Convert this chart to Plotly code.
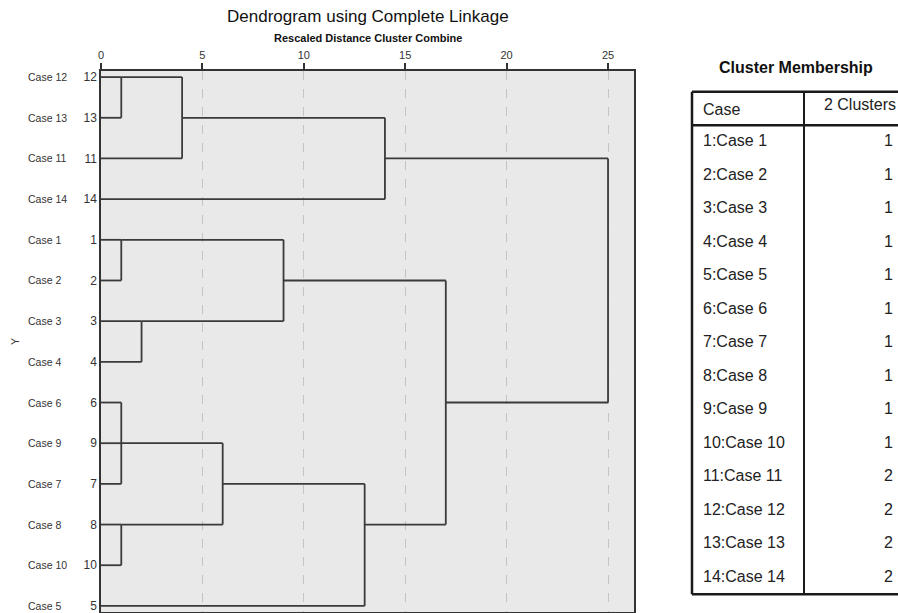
import plotly.graph_objects as go

# ---------------- data ----------------
leaf_labels = ["Case 12", "Case 13", "Case 11", "Case 14", "Case 1", "Case 2", "Case 3",
               "Case 4", "Case 6", "Case 9", "Case 7", "Case 8", "Case 10", "Case 5"]
leaf_numbers = [12, 13, 11, 14, 1, 2, 3, 4, 6, 9, 7, 8, 10, 5]

# merges: node ids 0..13 are leaves (by row), merges get ids 14..25 in order
merge_children = [[0, 1], [14, 2], [15, 3], [4, 5], [6, 7], [17, 18],
                  [8, 9, 10], [11, 12], [20, 21], [22, 13], [19, 23], [16, 24]]
merge_heights = [1, 4, 14, 1, 2, 9, 1, 1, 6, 13, 17, 25]
merge_rows = [0, 1, 2, 4, 6, 5, 9, 11, 10, 11, 8, 5]

x_ticks = [0, 5, 10, 15, 20, 25]

table_cases = [f"{i}:Case {i}" for i in range(1, 15)]
table_clusters = [1, 1, 1, 1, 1, 1, 1, 1, 1, 1, 2, 2, 2, 2]
table_header = ["Case", "2 Clusters"]

# ---------------- build dendrogram segments ----------------
n_leaves = len(leaf_labels)
node_row = {i: i for i in range(n_leaves)}
node_h = {i: 0 for i in range(n_leaves)}
xs, ys = [], []
for k, (ch, h, r) in enumerate(zip(merge_children, merge_heights, merge_rows)):
    nid = n_leaves + k
    rows = [node_row[c] for c in ch]
    xs += [h, h, None]
    ys += [min(rows), max(rows), None]
    for c in ch:
        xs += [node_h[c], h, None]
        ys += [node_row[c], node_row[c], None]
    node_row[nid] = r
    node_h[nid] = h

W, H = 898, 613
FONT = "Liberation Sans, Arial, sans-serif"

fig = go.Figure()
fig.add_trace(go.Scatter(x=xs, y=ys, mode="lines",
                         line=dict(color="#3a3a3a", width=1.8),
                         hoverinfo="skip", xaxis="x", yaxis="y"))

rows = list(range(1, len(table_cases) + 1))
fig.add_trace(go.Scatter(x=[703] * len(rows), y=rows, text=table_cases, mode="text",
                         textposition="middle right",
                         textfont=dict(size=16, color="#222", family=FONT),
                         hoverinfo="skip", xaxis="x2", yaxis="y2", cliponaxis=False))
fig.add_trace(go.Scatter(x=[893] * len(rows), y=rows, text=[str(v) for v in table_clusters],
                         mode="text", textposition="middle left",
                         textfont=dict(size=16, color="#222", family=FONT),
                         hoverinfo="skip", xaxis="x2", yaxis="y2", cliponaxis=False))
fig.add_trace(go.Scatter(x=[703, 896], y=[0.06, -0.06], text=table_header, mode="text",
                         textposition=["middle right", "middle left"],
                         textfont=dict(size=16, color="#222", family=FONT),
                         hoverinfo="skip", xaxis="x2", yaxis="y2", cliponaxis=False))

bc = "#1a1a1a"
shapes = [
    dict(type="rect", xref="x domain", yref="y domain", x0=0, x1=1, y0=0, y1=1,
         fillcolor="#e9e9e9", line=dict(width=0), layer="below"),
    dict(type="line", xref="x2", yref="y2", x0=692, x1=900, y0=-0.5, y1=-0.5, line=dict(color=bc, width=2.5)),
    dict(type="line", xref="x2", yref="y2", x0=692, x1=900, y0=0.5, y1=0.5, line=dict(color=bc, width=2.5)),
    dict(type="line", xref="x2", yref="y2", x0=692, x1=900, y0=14.5, y1=14.5, line=dict(color=bc, width=2.5)),
    dict(type="line", xref="x2", yref="y2", x0=692, x1=692, y0=-0.5, y1=14.5, line=dict(color=bc, width=2.5)),
    dict(type="line", xref="x2", yref="y2", x0=804, x1=804, y0=-0.5, y1=14.5, line=dict(color=bc, width=2)),
]

ann = []
for i, lab in enumerate(leaf_labels):
    ann.append(dict(x=26 / W, xref="paper", y=i, yref="y", text=lab, showarrow=False,
                    xanchor="left", yanchor="middle", font=dict(size=10.5, color="#333", family=FONT)))
ann.append(dict(x=15 / W, xref="paper", y=1 - 342 / H, yref="paper", text="Y", textangle=-90,
                showarrow=False, xanchor="center", yanchor="middle",
                font=dict(size=10.5, color="#333", family=FONT)))
ann.append(dict(x=367.5 / W, xref="paper", y=1 - 17 / H, yref="paper",
                text="Dendrogram using Complete Linkage", showarrow=False,
                xanchor="center", yanchor="middle", font=dict(size=17, color="#111", family=FONT)))
ann.append(dict(x=367.5 / W, xref="paper", y=1 - 38 / H, yref="paper",
                text="<b>Rescaled Distance Cluster Combine</b>", showarrow=False,
                xanchor="center", yanchor="middle", font=dict(size=11, color="#111", family=FONT)))
ann.append(dict(x=795.5 / W, xref="paper", y=1 - 67 / H, yref="paper",
                text="<b>Cluster Membership</b>", showarrow=False,
                xanchor="center", yanchor="middle", font=dict(size=16, color="#111", family=FONT)))

row_px = 33.5
row0_px = 108.5

fig.update_layout(
    template="none",
    width=W, height=H,
    margin=dict(l=0, r=0, t=0, b=0),
    paper_bgcolor="white",
    plot_bgcolor="rgba(0,0,0,0)",
    showlegend=False,
    font=dict(family=FONT, color="#333"),
    xaxis=dict(domain=[101 / W, 634 / W], range=[0, 26.28], side="top", anchor="y",
               tickvals=x_ticks, ticks="outside", ticklen=6, tickcolor="#333", tickwidth=1.5,
               showgrid=True, gridcolor="#c4c4c4", griddash="dash", gridwidth=1,
               showline=True, linecolor="#333", linewidth=1.5, mirror=True, zeroline=False,
               ticklabeloverflow="allow",
               tickfont=dict(size=11, color="#333", family=FONT)),
    yaxis=dict(domain=[1 - 612 / H, 1 - 71 / H], range=[13.15, -0.15], anchor="x",
               tickvals=list(range(n_leaves)), ticktext=[str(n) for n in leaf_numbers],
               ticks="", showgrid=False, zeroline=False, showline=True, linecolor="#333",
               linewidth=1.5, mirror=True, ticklabeloverflow="allow",
               tickfont=dict(size=12, color="#333", family=FONT)),
    xaxis2=dict(domain=[680 / W, 1], range=[680, 898], visible=False, anchor="y2"),
    yaxis2=dict(domain=[0, 1], range=[(H - row0_px) / row_px, (0 - row0_px) / row_px],
                visible=False, anchor="x2"),
    shapes=shapes,
    annotations=ann,
)

fig.write_html("out.html", config={"displayModeBar": False},
               post_script="document.body.style.margin='0';")
